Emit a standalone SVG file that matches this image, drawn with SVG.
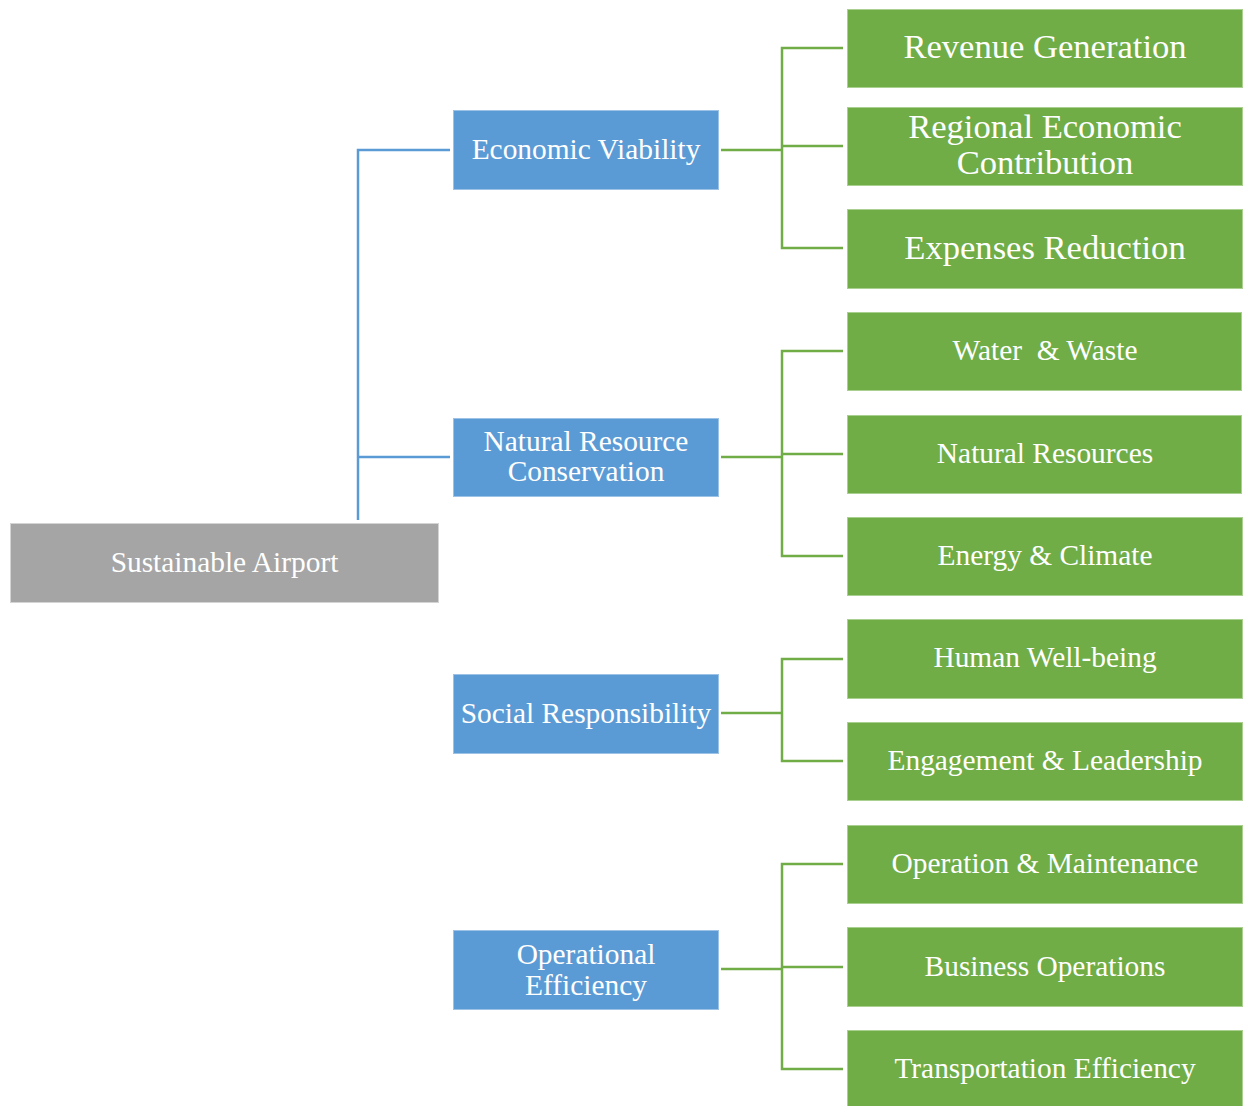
<svg xmlns="http://www.w3.org/2000/svg" width="1246" height="1106" viewBox="0 0 1246 1106">
  <style>
    .root { fill: #a5a5a5; stroke: #d4d4d4; stroke-width: 1; }
    .pillar { fill: #5b9bd5; stroke: #9cc3e6; stroke-width: 1; }
    .item { fill: #70ad47; stroke: #a9d08e; stroke-width: 1; }
    text { font-family: "Liberation Serif", "Times New Roman", serif; fill: #ffffff; text-anchor: middle; font-size: 29.4px; white-space: pre; }
    .big { font-size: 34.6px; }
    .blue-link { fill: none; stroke: #5b9bd5; stroke-width: 2.5; }
    .green-link { fill: none; stroke: #70ad47; stroke-width: 2.5; }
  </style>

  <!-- connectors -->
  <g id="connectors">
    <path class="blue-link" d="M450,150 H358 V520 M358,457 H450"/>
    <path class="green-link" d="M721,150 H782 M843,48 H782 V248 H843 M782,146 H843"/>
    <path class="green-link" d="M721,457 H782 M843,351 H782 V556 H843 M782,454 H843"/>
    <path class="green-link" d="M721,713 H782 M843,659 H782 V761 H843"/>
    <path class="green-link" d="M721,969 H782 M843,864 H782 V1069 H843 M782,967 H843"/>
  </g>

  <!-- root -->
  <g id="sustainable-airport">
    <rect class="root" x="10.5" y="523.5" width="428" height="79"/>
    <text x="224.5" y="572">Sustainable Airport</text>
  </g>

  <!-- pillars -->
  <g id="economic-viability">
    <rect class="pillar" x="453.5" y="110.5" width="265" height="79"/>
    <text x="586" y="159">Economic Viability</text>
  </g>
  <g id="natural-resource-conservation">
    <rect class="pillar" x="453.5" y="418.5" width="265" height="78"/>
    <text x="586" y="451">Natural Resource</text>
    <text x="586" y="481">Conservation</text>
  </g>
  <g id="social-responsibility">
    <rect class="pillar" x="453.5" y="674.5" width="265" height="79"/>
    <text x="586" y="723">Social Responsibility</text>
  </g>
  <g id="operational-efficiency">
    <rect class="pillar" x="453.5" y="930.5" width="265" height="79"/>
    <text x="586" y="964">Operational</text>
    <text x="586" y="995">Efficiency</text>
  </g>

  <!-- economic items -->
  <g id="revenue-generation">
    <rect class="item" x="847.5" y="9.5" width="395" height="78"/>
    <text class="big" x="1045" y="58">Revenue Generation</text>
  </g>
  <g id="regional-economic-contribution">
    <rect class="item" x="847.5" y="107.5" width="395" height="78"/>
    <text class="big" x="1045" y="138">Regional Economic</text>
    <text class="big" x="1045" y="174">Contribution</text>
  </g>
  <g id="expenses-reduction">
    <rect class="item" x="847.5" y="209.5" width="395" height="79"/>
    <text class="big" x="1045" y="259">Expenses Reduction</text>
  </g>

  <!-- conservation items -->
  <g id="water-waste">
    <rect class="item" x="847.5" y="312.5" width="394" height="78"/>
    <text x="1045" y="360">Water  &amp; Waste</text>
  </g>
  <g id="natural-resources">
    <rect class="item" x="847.5" y="415.5" width="394" height="78"/>
    <text x="1045" y="463">Natural Resources</text>
  </g>
  <g id="energy-climate">
    <rect class="item" x="847.5" y="517.5" width="395" height="78"/>
    <text x="1045" y="565">Energy &amp; Climate</text>
  </g>

  <!-- social items -->
  <g id="human-well-being">
    <rect class="item" x="847.5" y="619.5" width="395" height="79"/>
    <text x="1045" y="667">Human Well-being</text>
  </g>
  <g id="engagement-leadership">
    <rect class="item" x="847.5" y="722.5" width="395" height="78"/>
    <text x="1045" y="770">Engagement &amp; Leadership</text>
  </g>

  <!-- operational items -->
  <g id="operation-maintenance">
    <rect class="item" x="847.5" y="825.5" width="395" height="78"/>
    <text x="1045" y="873">Operation &amp; Maintenance</text>
  </g>
  <g id="business-operations">
    <rect class="item" x="847.5" y="927.5" width="395" height="79"/>
    <text x="1045" y="976">Business Operations</text>
  </g>
  <g id="transportation-efficiency">
    <rect class="item" x="847.5" y="1030.5" width="395" height="77"/>
    <text x="1045" y="1078">Transportation Efficiency</text>
  </g>
</svg>
